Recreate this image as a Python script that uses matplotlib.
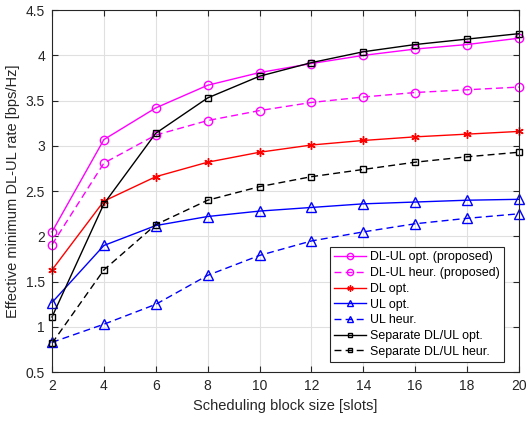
import matplotlib.pyplot as plt

plt.rcParams['font.family'] = ['Liberation Sans', 'DejaVu Sans']

block_size = [2, 4, 6, 8, 10, 12, 14, 16, 18, 20]

dlul_opt = [2.05, 3.07, 3.42, 3.67, 3.81, 3.91, 4.00, 4.07, 4.12, 4.19]
dlul_heur = [1.91, 2.81, 3.12, 3.28, 3.39, 3.48, 3.54, 3.59, 3.62, 3.65]
dl_opt = [1.63, 2.39, 2.66, 2.82, 2.93, 3.01, 3.06, 3.10, 3.13, 3.16]
ul_opt = [1.27, 1.90, 2.12, 2.22, 2.28, 2.32, 2.36, 2.38, 2.40, 2.41]
ul_heur = [0.83, 1.03, 1.25, 1.57, 1.79, 1.95, 2.05, 2.14, 2.20, 2.25]
sep_opt = [1.11, 2.36, 3.14, 3.53, 3.77, 3.92, 4.04, 4.12, 4.18, 4.24]
sep_heur = [0.82, 1.63, 2.13, 2.40, 2.55, 2.66, 2.74, 2.82, 2.88, 2.93]

fig = plt.figure(figsize=(5.27, 4.22), dpi=100)
ax = fig.add_axes([0.0987, 0.118, 0.886, 0.858])

dash = (0, (5, 3))
common = dict(linewidth=1, clip_on=False, markeredgewidth=1)

ax.plot(block_size, dlul_opt, '-o', color='#ff00ff', markersize=6,
        markerfacecolor='none', label='DL-UL opt. (proposed)', **common)
ax.plot(block_size, dlul_heur, 'o', linestyle=dash, color='#ff00ff',
        markersize=6, markerfacecolor='none',
        label='DL-UL heur. (proposed)', **common)
ax.plot(block_size, dl_opt, '-', marker=(6, 2, 0), color='#ff0000',
        markersize=6, label='DL opt.', **common)
ax.plot(block_size, ul_opt, '-^', color='#0000ff', markersize=6.5,
        markerfacecolor='none', label='UL opt.', **common)
ax.plot(block_size, ul_heur, '^', linestyle=dash, color='#0000ff',
        markersize=6.5, markerfacecolor='none', label='UL heur.', **common)
ax.plot(block_size, sep_opt, '-s', color='black', markersize=4.5,
        markerfacecolor='none', label='Separate DL/UL opt.', **common)
ax.plot(block_size, sep_heur, 's', linestyle=dash, color='black',
        markersize=4.5, markerfacecolor='none',
        label='Separate DL/UL heur.', **common)

ax.set_xlim(2, 20)
ax.set_ylim(0.5, 4.5)
ax.set_xticks(block_size)
ax.set_yticks([0.5, 1, 1.5, 2, 2.5, 3, 3.5, 4, 4.5])
ax.set_yticklabels(['0.5', '1', '1.5', '2', '2.5', '3', '3.5', '4', '4.5'])
ax.tick_params(direction='in', top=True, right=True, labelsize=10,
               colors='#262626', length=4, pad=5)
ax.grid(True, color='#e0e0e0', linewidth=0.8)
ax.set_axisbelow(True)
for s in ax.spines.values():
    s.set_color('#262626')

ax.set_xlabel('Scheduling block size [slots]', fontsize=10.5, color='#262626')
ax.set_ylabel('Effective minimum DL-UL rate [bps/Hz]', fontsize=10.5,
              color='#262626')

leg = ax.legend(loc='lower right', bbox_to_anchor=(0.968, 0.028),
                borderaxespad=0, fontsize=8.9, fancybox=False,
                edgecolor='#262626', framealpha=1, handlelength=2.6,
                markerscale=0.75, labelspacing=0.3, borderpad=0.35,
                handletextpad=0.3)
leg.get_frame().set_linewidth(0.8)

plt.savefig('out.png', dpi=100)
